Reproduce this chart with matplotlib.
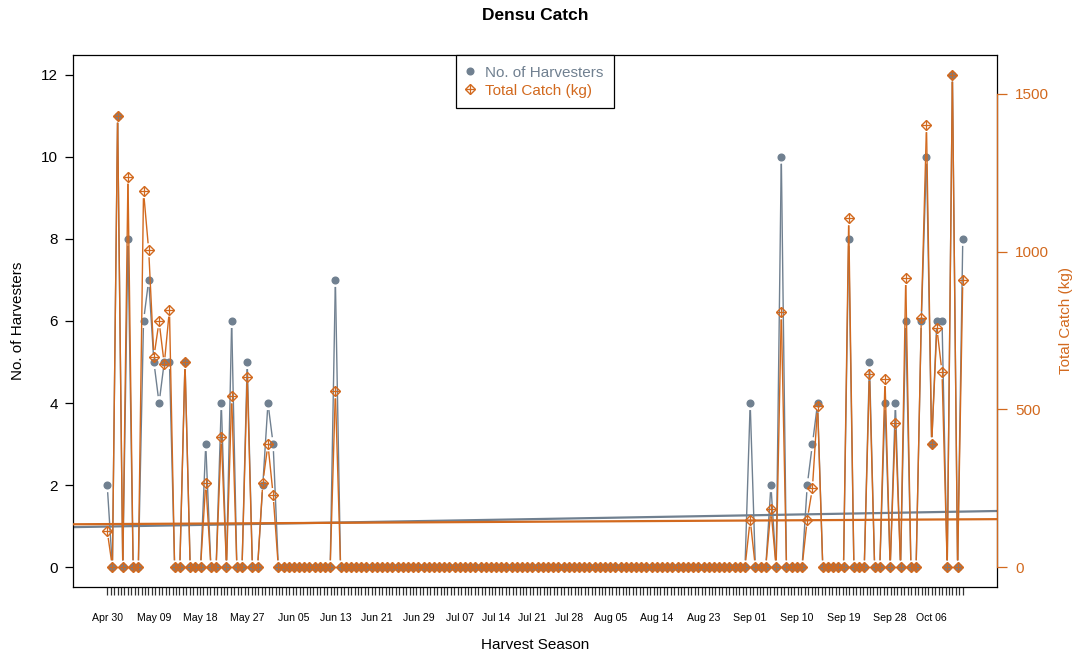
import numpy as np
import pandas as pd
import matplotlib
matplotlib.use("Agg")
import matplotlib.pyplot as plt
from matplotlib.lines import Line2D
from matplotlib.legend_handler import HandlerTuple
from matplotlib.collections import LineCollection
import matplotlib.transforms as mtransforms

plt.rcParams['font.family'] = ['Liberation Sans', 'DejaVu Sans']

# ---------------- data ----------------
start_date = "2019-04-30"
n_days = 166

harvesters = [
    2, 0, 11, 0, 8, 0, 0, 6, 7, 5, 4, 5, 5, 0, 0, 5, 0, 0, 0, 3,
    0, 0, 4, 0, 6, 0, 0, 5, 0, 0, 2, 4, 3, 0, 0, 0, 0, 0, 0, 0,
    0, 0, 0, 0, 7, 0, 0, 0, 0, 0, 0, 0, 0, 0, 0, 0, 0, 0, 0, 0,
    0, 0, 0, 0, 0, 0, 0, 0, 0, 0, 0, 0, 0, 0, 0, 0, 0, 0, 0, 0,
    0, 0, 0, 0, 0, 0, 0, 0, 0, 0, 0, 0, 0, 0, 0, 0, 0, 0, 0, 0,
    0, 0, 0, 0, 0, 0, 0, 0, 0, 0, 0, 0, 0, 0, 0, 0, 0, 0, 0, 0,
    0, 0, 0, 0, 4, 0, 0, 0, 2, 0, 10, 0, 0, 0, 0, 2, 3, 4, 0, 0,
    0, 0, 0, 8, 0, 0, 0, 5, 0, 0, 4, 0, 4, 0, 6, 0, 0, 6, 10, 3,
    6, 6, 0, 12, 0, 8,
]

catch_kg = [
    115, 0, 1430, 0, 1237, 0, 0, 1191, 1004, 666, 779, 643, 816, 0, 0, 649, 0, 0, 0, 268,
    0, 0, 414, 0, 541, 0, 0, 604, 0, 0, 268, 389, 229, 0, 0, 0, 0, 0, 0, 0,
    0, 0, 0, 0, 557, 0, 0, 0, 0, 0, 0, 0, 0, 0, 0, 0, 0, 0, 0, 0,
    0, 0, 0, 0, 0, 0, 0, 0, 0, 0, 0, 0, 0, 0, 0, 0, 0, 0, 0, 0,
    0, 0, 0, 0, 0, 0, 0, 0, 0, 0, 0, 0, 0, 0, 0, 0, 0, 0, 0, 0,
    0, 0, 0, 0, 0, 0, 0, 0, 0, 0, 0, 0, 0, 0, 0, 0, 0, 0, 0, 0,
    0, 0, 0, 0, 151, 0, 0, 0, 184, 0, 807, 0, 0, 0, 0, 151, 250, 511, 0, 0,
    0, 0, 0, 1105, 0, 0, 0, 612, 0, 0, 596, 0, 458, 0, 916, 0, 0, 789, 1400, 390,
    758, 618, 0, 1560, 0, 909,
]

date_labels = ["Apr 30", "May 09", "May 18", "May 27", "Jun 05", "Jun 13", "Jun 21",
               "Jun 29", "Jul 07", "Jul 14", "Jul 21", "Jul 28", "Aug 05", "Aug 14",
               "Aug 23", "Sep 01", "Sep 10", "Sep 19", "Sep 28", "Oct 06"]
n_axis_ticks = 250

left_ticks = [0, 2, 4, 6, 8, 10, 12]
right_ticks = [0, 500, 1000, 1500]

# ---------------- styling ----------------
GREY = '#708090'
ORANGE = '#D2691E'
W, H = 1081, 657

dates = pd.date_range(start_date, periods=n_days)
x = np.arange(n_days)
h = np.array(harvesters, dtype=float)
c = np.array(catch_kg, dtype=float)

fig = plt.figure(figsize=(W / 100, H / 100), dpi=100)
L, R, T, B = 73, 997, 55, 587
ax = fig.add_axes([L / W, 1 - B / H, (R - L) / W, (B - T) / H])
ax2 = ax.twinx()

xpad = 0.04 * (x.max() - x.min())
ax.set_xlim(x.min() - xpad, x.max() + xpad)
ax.set_ylim(-0.04 * h.max(), h.max() * 1.04)
ax2.set_ylim(-0.04 * c.max(), c.max() * 1.04)


def gapped_segments(axis, xs, ys, gap_px):
    """Segments between consecutive points, shortened near each point (R type='b')."""
    pts = axis.transData.transform(np.column_stack([xs, ys]))
    inv = axis.transData.inverted()
    segs = []
    for p0, p1 in zip(pts[:-1], pts[1:]):
        d = p1 - p0
        ln = np.hypot(*d)
        if ln <= 2 * gap_px:
            continue
        u = d / ln
        a = p0 + u * gap_px
        b = p1 - u * gap_px
        segs.append(inv.transform(np.array([a, b])))
    return segs


# series
ax.add_collection(LineCollection(gapped_segments(ax, x, h, 7), colors=GREY,
                                 linewidths=1.0, zorder=3))
ax.plot(x, h, ls='none', marker='o', ms=4.8, mec=GREY, mfc=GREY, zorder=3)
ax2.add_collection(LineCollection(gapped_segments(ax2, x, c, 7), colors=ORANGE,
                                  linewidths=1.0, zorder=3))
ax2.plot(x, c, ls='none', marker='D', ms=5.3, mfc='none', mec=ORANGE, mew=1.0, zorder=4)
ax2.plot(x, c, ls='none', marker='+', ms=7.2, mec=ORANGE, mew=0.9, zorder=4)

# regression lines
mh, bh = np.polyfit(x, h, 1)
mc, bc = np.polyfit(x, c, 1)
ax.axline((0, bh), slope=mh, color=GREY, lw=1.6, zorder=2)
ax2.axline((0, bc), slope=mc, color=ORANGE, lw=1.6, zorder=2)

# x axis: many small ticks + date labels
ax.set_xticks(np.linspace(x.min(), x.max(), n_axis_ticks))
ax.set_xticklabels([])
ax.tick_params(axis='x', length=6, width=0.9, color='#333333', direction='out')
label_pos = [(pd.Timestamp(f"{lbl} 2019") - dates[0]).days for lbl in date_labels]
trans = mtransforms.blended_transform_factory(ax.transData, ax.transAxes)
for lp, lbl in zip(label_pos, date_labels):
    ax.text(lp, -0.0577, lbl, transform=trans, ha='center', va='center', fontsize=7.6)

# left axis
ax.set_yticks(left_ticks)
ax.set_yticklabels([str(t) for t in left_ticks], fontsize=11)
ax.tick_params(axis='y', length=6, width=0.9, pad=5)
for s in ['left', 'bottom', 'top', 'right']:
    ax.spines[s].set_color('black')
    ax.spines[s].set_linewidth(0.9)

# right axis
ax2.set_yticks(right_ticks)
ax2.set_yticklabels([str(t) for t in right_ticks], fontsize=11, color=ORANGE)
ax2.tick_params(axis='y', length=7, width=0.9, color=ORANGE, pad=6)
for s in ['left', 'bottom', 'top']:
    ax2.spines[s].set_visible(False)
ax2.spines['right'].set_color(ORANGE)
ax2.spines['right'].set_bounds(right_ticks[0], right_ticks[-1])
ax2.spines['right'].set_linewidth(0.9)

# legend
hh = Line2D([], [], color=GREY, marker='o', ls='none', ms=4.8)
cd = Line2D([], [], color=ORANGE, marker='D', ls='none', ms=5.3, mfc='none', mew=1.0)
cp = Line2D([], [], color=ORANGE, marker='+', ls='none', ms=7.2, mew=0.9)
leg = ax2.legend([hh, (cd, cp)], ["No. of Harvesters", "Total Catch (kg)"],
                 handler_map={tuple: HandlerTuple(ndivide=1)},
                 loc='upper center', bbox_to_anchor=(0.5, 1.0), borderaxespad=0,
                 fontsize=11, frameon=True, fancybox=False, framealpha=1,
                 edgecolor='black', handlelength=0.5, handletextpad=0.7,
                 borderpad=0.7, labelspacing=0.25)
leg.get_frame().set_linewidth(0.9)
leg.get_texts()[0].set_color(GREY)
leg.get_texts()[1].set_color(ORANGE)

# titles
fig.text(535 / W, 1 - 15 / H, "Densu Catch", ha='center', va='center',
         fontsize=12.5, fontweight='bold')
fig.text(535 / W, 1 - 645 / H, "Harvest Season", ha='center', va='center', fontsize=11)
fig.text(18 / W, 1 - 321 / H, "No. of Harvesters", ha='center', va='center',
         fontsize=11, rotation=90)
fig.text(1066 / W, 1 - 321 / H, "Total Catch (kg)", ha='center', va='center',
         fontsize=11, rotation=90, color=ORANGE)

fig.savefig("out.png", dpi=100)
